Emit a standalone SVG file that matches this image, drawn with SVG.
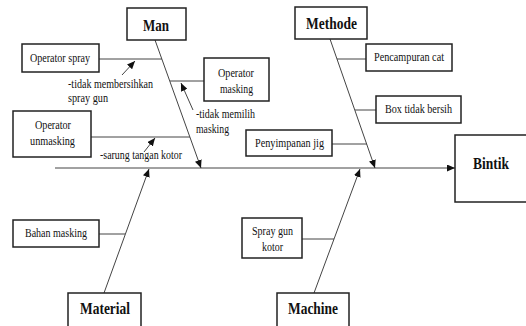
<svg xmlns="http://www.w3.org/2000/svg" width="526" height="326" viewBox="0 0 526 326">
<style>
.box{fill:#fff;stroke:#222;stroke-width:1.5}
.ln{stroke:#444;stroke-width:1;fill:none}
text{font-family:'Liberation Serif','DejaVu Serif','Times New Roman',serif;fill:#111}
.t{font-size:12px}
.h{font-size:17px;font-weight:bold}
</style>
<defs>
<marker id="ah" viewBox="0 0 8 7" refX="8" refY="3.5" markerWidth="8" markerHeight="7" markerUnits="userSpaceOnUse" orient="auto">
<path d="M0,0 L8,3.5 L0,7 z" fill="#111"/>
</marker>
</defs>
<rect width="526" height="326" fill="#fff"/>
<g id="connectors">
<line class="ln" x1="55" y1="168" x2="455" y2="168" marker-end="url(#ah)"/>
<line class="ln" x1="155" y1="40" x2="201" y2="168" marker-end="url(#ah)"/>
<line class="ln" x1="330" y1="39" x2="375" y2="168" marker-end="url(#ah)"/>
<line class="ln" x1="104" y1="293" x2="149" y2="169" marker-end="url(#ah)"/>
<line class="ln" x1="314" y1="293" x2="360" y2="169" marker-end="url(#ah)"/>
<line class="ln" x1="99" y1="59" x2="162" y2="59"/>
<line class="ln" x1="170" y1="81" x2="204" y2="81"/>
<line class="ln" x1="91" y1="137" x2="190" y2="137"/>
<line class="ln" x1="337" y1="59" x2="366" y2="59"/>
<line class="ln" x1="355" y1="110" x2="376" y2="110"/>
<line class="ln" x1="332" y1="144" x2="367" y2="144"/>
<line class="ln" x1="99" y1="234" x2="125" y2="234"/>
<line class="ln" x1="302" y1="239" x2="334" y2="239"/>
<line class="ln" x1="122" y1="75" x2="135" y2="61" marker-end="url(#ah)"/>
<line class="ln" x1="193" y1="110" x2="181" y2="83" marker-end="url(#ah)"/>
<line class="ln" x1="144" y1="152" x2="155" y2="138" marker-end="url(#ah)"/>
</g>
<g id="notes">
<text class="t" x="68" y="88" textLength="85" lengthAdjust="spacingAndGlyphs">-tidak membersihkan</text>
<text class="t" x="68" y="102" textLength="40" lengthAdjust="spacingAndGlyphs">spray gun</text>
<text class="t" x="196" y="118" textLength="59" lengthAdjust="spacingAndGlyphs">-tidak memilih</text>
<text class="t" x="196" y="133" textLength="33" lengthAdjust="spacingAndGlyphs">masking</text>
<text class="t" x="100" y="159" textLength="82" lengthAdjust="spacingAndGlyphs">-sarung tangan kotor</text>
</g>
<g id="man"><rect class="box" x="127" y="8" width="59" height="32"/><text class="h" x="143" y="31" textLength="26" lengthAdjust="spacingAndGlyphs">Man</text></g>
<g id="methode"><rect class="box" x="295" y="7" width="72" height="32"/><text class="h" x="306" y="29" textLength="51" lengthAdjust="spacingAndGlyphs">Methode</text></g>
<g id="material"><rect class="box" x="68" y="293" width="73" height="34"/><text class="h" x="80" y="314" textLength="50" lengthAdjust="spacingAndGlyphs">Material</text></g>
<g id="machine"><rect class="box" x="277" y="293" width="72" height="34"/><text class="h" x="288" y="314" textLength="50" lengthAdjust="spacingAndGlyphs">Machine</text></g>
<g id="bintik"><rect class="box" x="455" y="135" width="80" height="67"/><text class="h" x="473" y="169" textLength="36" lengthAdjust="spacingAndGlyphs">Bintik</text></g>
<g id="operator-spray"><rect class="box" x="22" y="44" width="77" height="28"/><text class="t" x="30" y="62" textLength="60" lengthAdjust="spacingAndGlyphs">Operator spray</text></g>
<g id="operator-masking"><rect class="box" x="204" y="58" width="65" height="43"/><text class="t" x="218" y="77" textLength="36" lengthAdjust="spacingAndGlyphs">Operator</text><text class="t" x="220" y="93" textLength="33" lengthAdjust="spacingAndGlyphs">masking</text></g>
<g id="operator-unmasking"><rect class="box" x="13" y="111" width="78" height="46"/><text class="t" x="35" y="129" textLength="36" lengthAdjust="spacingAndGlyphs">Operator</text><text class="t" x="30" y="145" textLength="45" lengthAdjust="spacingAndGlyphs">unmasking</text></g>
<g id="pencampuran-cat"><rect class="box" x="366" y="44" width="86" height="27"/><text class="t" x="374" y="61" textLength="70" lengthAdjust="spacingAndGlyphs">Pencampuran cat</text></g>
<g id="box-tidak-bersih"><rect class="box" x="376" y="96" width="85" height="27"/><text class="t" x="385" y="113" textLength="67" lengthAdjust="spacingAndGlyphs">Box tidak bersih</text></g>
<g id="penyimpanan-jig"><rect class="box" x="246" y="130" width="86" height="26"/><text class="t" x="255" y="147" textLength="69" lengthAdjust="spacingAndGlyphs">Penyimpanan jig</text></g>
<g id="bahan-masking"><rect class="box" x="13" y="220" width="86" height="27"/><text class="t" x="25" y="237" textLength="62" lengthAdjust="spacingAndGlyphs">Bahan masking</text></g>
<g id="spray-gun-kotor"><rect class="box" x="242" y="218" width="60" height="40"/><text class="t" x="252" y="235" textLength="41" lengthAdjust="spacingAndGlyphs">Spray gun</text><text class="t" x="262" y="251" textLength="21" lengthAdjust="spacingAndGlyphs">kotor</text></g>
</svg>
